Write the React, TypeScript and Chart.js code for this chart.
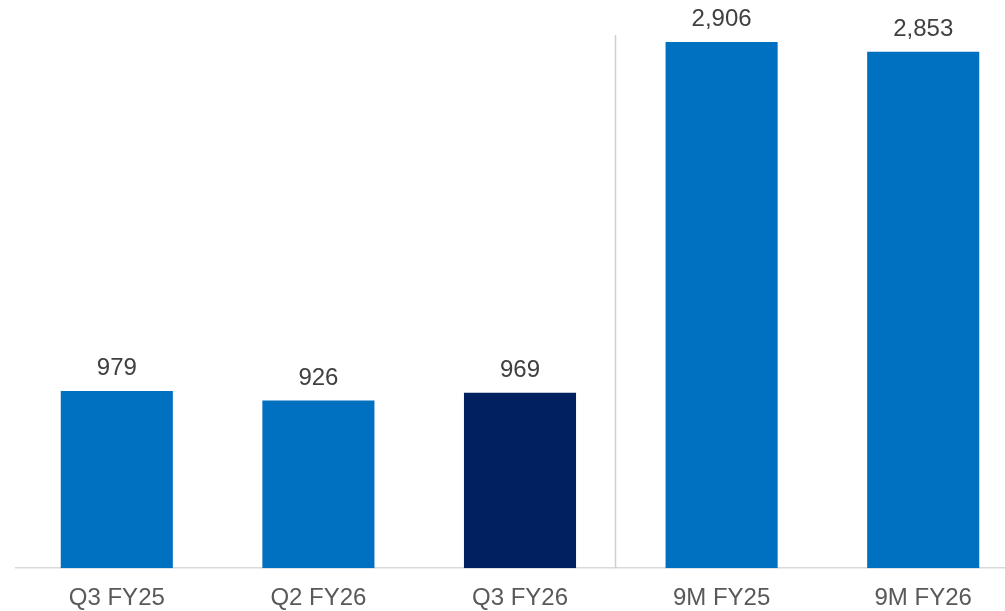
import React, { useEffect, useRef } from "react";
import { Chart, registerables } from "chart.js";

Chart.register(...registerables);

const categories = ["Q3 FY25", "Q2 FY26", "Q3 FY26", "9M FY25", "9M FY26"];
const values = [979, 926, 969, 2906, 2853];
const barColors = ["#0070C0", "#0070C0", "#002060", "#0070C0", "#0070C0"];
const separatorAfterIndex = 2;

const FONT = "'Liberation Sans', Arial, Helvetica, sans-serif";

const valueLabelsPlugin = {
  id: "valueLabels",
  afterDatasetsDraw(chart: any) {
    const ctx = chart.ctx;
    const meta = chart.getDatasetMeta(0);
    ctx.save();
    ctx.font = `24px ${FONT}`;
    ctx.fillStyle = "#404040";
    ctx.textAlign = "center";
    ctx.textBaseline = "alphabetic";
    meta.data.forEach((bar: any, i: number) => {
      const v = values[i];
      ctx.fillText(v.toLocaleString("en-US"), bar.x, bar.y - 16);
    });
    ctx.restore();
  },
};

const separatorPlugin = {
  id: "separator",
  beforeDatasetsDraw(chart: any) {
    const { ctx, chartArea } = chart;
    const xs = chart.scales.x;
    const a = xs.getPixelForValue(separatorAfterIndex);
    const b = xs.getPixelForValue(separatorAfterIndex + 1);
    const x = Math.round(a + (b - a) * 0.47) + 0.5;
    ctx.save();
    ctx.strokeStyle = "#D0D0D0";
    ctx.lineWidth = 1.5;
    ctx.beginPath();
    ctx.moveTo(x, chartArea.top);
    ctx.lineTo(x, chartArea.bottom);
    ctx.stroke();
    ctx.restore();
  },
};

export default function App() {
  const ref = useRef<HTMLCanvasElement | null>(null);

  useEffect(() => {
    if (!ref.current) return;
    const chart = new Chart(ref.current, {
      type: "bar",
      data: {
        labels: categories,
        datasets: [
          {
            data: values,
            backgroundColor: barColors,
            borderWidth: 0,
            categoryPercentage: 1,
            barPercentage: 0.556,
          },
        ],
      },
      options: {
        responsive: false,
        animation: false,
        devicePixelRatio: 1,
        layout: { padding: { left: 16, top: 35, right: 0, bottom: 0 } },
        plugins: {
          legend: { display: false },
          tooltip: { enabled: false },
        },
        scales: {
          x: {
            offset: true,
            grid: { display: false, drawTicks: false },
            border: { display: true, color: "#D9D9D9", width: 1.5 },
            ticks: {
              color: "#595959",
              font: { family: FONT, size: 24 },
              padding: 16,
              maxRotation: 0,
              autoSkip: false,
            },
          },
          y: {
            display: false,
            min: 0,
            max: 2945,
          },
        },
      },
      plugins: [valueLabelsPlugin, separatorPlugin],
    });
    return () => chart.destroy();
  }, []);

  return (
    <div
      style={{
        position: "fixed",
        left: 0,
        top: 0,
        width: "100vw",
        height: "100vh",
        overflow: "hidden",
        background: "#ffffff",
      }}
    >
      <canvas ref={ref} width={1024} height={629} style={{ display: "block" }} />
    </div>
  );
}
